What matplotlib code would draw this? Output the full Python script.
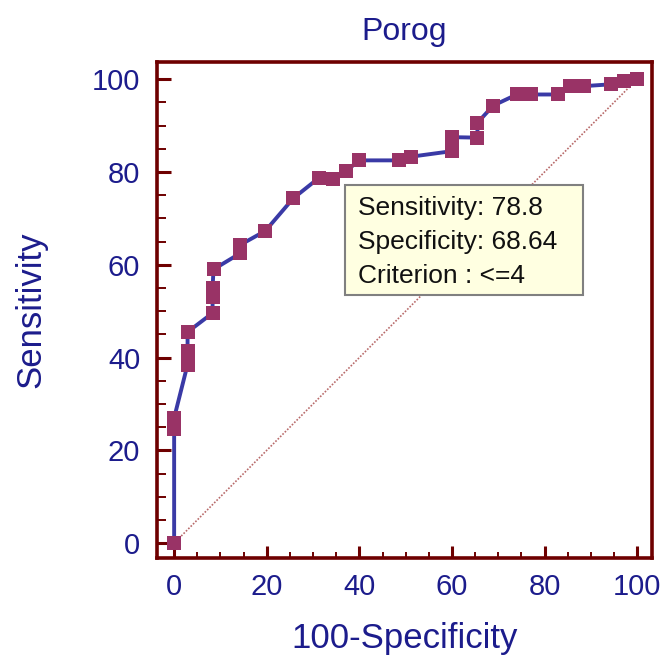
import matplotlib
matplotlib.use("Agg")
import matplotlib.pyplot as plt
from matplotlib.ticker import MultipleLocator
from matplotlib.patches import Rectangle

plt.rcParams['font.family'] = ['Liberation Sans', 'DejaVu Sans']

# ROC points: 100-Specificity (x) vs Sensitivity (y)
fpr = [0, 0, 0, 2.9, 2.9, 2.9, 8.3, 8.3, 8.3, 8.5, 14.3, 14.3, 19.7, 25.7,
       31.36, 34.3, 37.2, 39.9, 48.5, 51.2, 60.1, 60.1, 65.5, 65.5, 68.9,
       74.0, 77.0, 83.0, 85.5, 88.5, 94.4, 97.2, 100]
tpr = [0, 24.5, 27.0, 38.5, 41.5, 45.5, 49.6, 53.0, 55.0, 59.0, 62.5, 64.3,
       67.3, 74.3, 78.8, 78.4, 80.2, 82.5, 82.5, 83.3, 84.5, 87.5, 87.4, 90.6,
       94.3, 96.7, 96.7, 96.7, 98.5, 98.5, 98.9, 99.7, 100]

sensitivity = 78.8
specificity = 68.64
criterion = "<=4"

navy = "#1c1c8c"
frame = "#6e0000"

fig = plt.figure(figsize=(6.67, 6.59), dpi=100)
ax = fig.add_axes([0.2354, 0.1533, 0.7421, 0.7526])

# reference diagonal
ax.plot([0, 100], [0, 100], color="#b86a6a", lw=1.2, ls=(0, (1, 1)), zorder=1)

ax.plot(fpr, tpr, color="#3a3aa6", lw=2.8, zorder=2, solid_joinstyle="round")
ax.plot(fpr, tpr, ls="none", marker="s", ms=9.5, color="#993366",
        markeredgewidth=0, zorder=3)

ax.set_xlim(-3.7, 103.2)
ax.set_ylim(-3.2, 103.7)

ax.xaxis.set_major_locator(MultipleLocator(20))
ax.xaxis.set_minor_locator(MultipleLocator(5))
ax.yaxis.set_major_locator(MultipleLocator(20))
ax.yaxis.set_minor_locator(MultipleLocator(5))

for s in ax.spines.values():
    s.set_color(frame)
    s.set_linewidth(2.6)

ax.tick_params(axis="both", which="both", direction="in", color=frame,
               labelcolor=navy, labelsize=21)
ax.tick_params(axis="x", which="major", length=9, width=2.2, pad=11)
ax.tick_params(axis="x", which="minor", length=4, width=1.4)
ax.tick_params(axis="y", which="major", length=10, width=2.2, pad=12)
ax.tick_params(axis="y", which="minor", length=6.5, width=1.4)

ax.set_title("Porog", color=navy, fontsize=23, pad=16)
ax.set_xlabel("100-Specificity", color=navy, fontsize=25, labelpad=15)
ax.set_ylabel("Sensitivity", color=navy, fontsize=25, labelpad=32)

# info box for the chosen cut-off
box = Rectangle((36.9, 53.4), 51.4, 23.8, facecolor="#ffffe1",
                edgecolor="#808080", lw=1.5, zorder=4)
ax.add_patch(box)
lines = [f"Sensitivity: {sensitivity}", f"Specificity: {specificity}",
         f"Criterion : {criterion}"]
for i, t in enumerate(lines):
    ax.text(39.7, 72.2 - i * 7.3, t, fontsize=19, color="#111111",
            va="center", ha="left", zorder=5)

fig.savefig("out.png", dpi=100)
